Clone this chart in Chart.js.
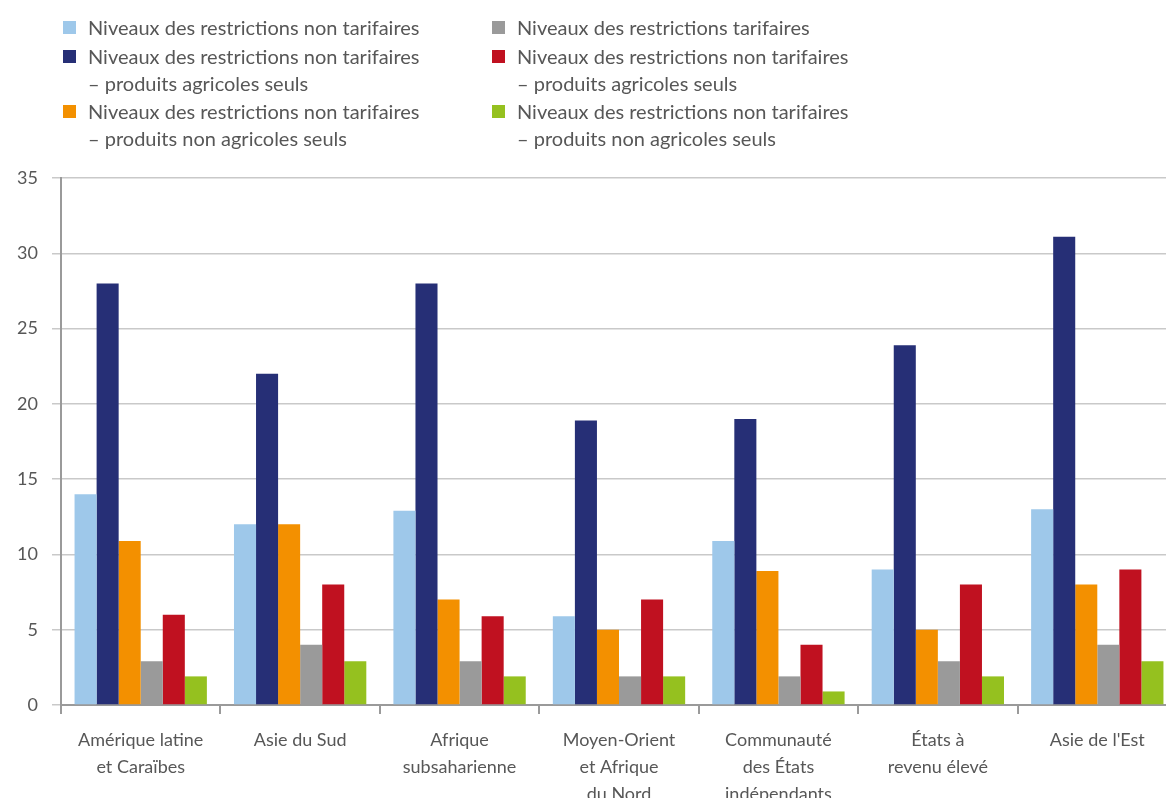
<!DOCTYPE html>
<html>
<head>
<meta charset="utf-8">
<script src="https://cdn.jsdelivr.net/npm/chart.js@4/dist/chart.umd.min.js"></script>
<style>
    html, body { margin: 0; padding: 0; background: #fff; overflow: hidden; }
    #wrap { position: absolute; left: 0; top: 0; width: 1177px; height: 798px; }
    #legend {
        position: absolute; left: 63px; top: 14px;
        display: grid; grid-template-columns: 429px 420px; grid-auto-flow: column;
        grid-template-rows: auto auto auto; row-gap: 1.5px;
        font-family: Lato, sans-serif; font-size: 20px; color: #575757;
    }
    .item { display: flex; align-items: flex-start; line-height: 27px; }
    .box { width: 13px; height: 13px; margin-top: 7px; margin-right: 12px; flex: none; }
</style>
</head>
<body>
<div id="wrap">
    <canvas id="chart" width="1177" height="798"></canvas>
    <div id="legend"></div>
</div>
<script>
const categories = [
    ["Amérique latine", "et Caraïbes"],
    ["Asie du Sud"],
    ["Afrique", "subsaharienne"],
    ["Moyen-Orient", "et Afrique", "du Nord"],
    ["Communauté", "des États", "indépendants"],
    ["États à", "revenu élevé"],
    ["Asie de l'Est"]
];

const nonTarif = [14, 12, 12.9, 5.9, 10.9, 9, 13];
const nonTarifAgri = [28, 22, 28, 18.9, 19, 23.9, 31.1];
const nonTarifNonAgri = [10.9, 12, 7, 5, 8.9, 5, 8];
const tarif = [2.9, 4, 2.9, 1.9, 1.9, 2.9, 4];
const tarifAgri = [6, 8, 5.9, 7, 4, 8, 9];
const tarifNonAgri = [1.9, 2.9, 1.9, 1.9, 0.9, 1.9, 2.9];

const seriesLabels = [
    ["Niveaux des restrictions non tarifaires"],
    ["Niveaux des restrictions non tarifaires", "– produits agricoles seuls"],
    ["Niveaux des restrictions non tarifaires", "– produits non agricoles seuls"],
    ["Niveaux des restrictions tarifaires"],
    ["Niveaux des restrictions non tarifaires", "– produits agricoles seuls"],
    ["Niveaux des restrictions non tarifaires", "– produits non agricoles seuls"]
];
const seriesColors = ["#9ec8ea", "#262f76", "#f39000", "#9a9a9a", "#c01120", "#95c11f"];
const seriesValues = [nonTarif, nonTarifAgri, nonTarifNonAgri, tarif, tarifAgri, tarifNonAgri];

const yTicks = [0, 5, 10, 15, 20, 25, 30, 35];

const textColor = "#575757";

const chart = new Chart(document.getElementById("chart"), {
    type: 'bar',
    data: {
        labels: categories,
        datasets: seriesValues.map((vals, i) => ({
            label: seriesLabels[i].join(" "),
            data: vals,
            backgroundColor: seriesColors[i],
            borderWidth: 0,
            barPercentage: 1,
            categoryPercentage: 0.83
        }))
    },
    options: {
        responsive: false,
        animation: false,
        devicePixelRatio: 1,
        layout: { padding: { top: 178, left: 0, right: 0, bottom: 0 } },
        plugins: {
            legend: { display: false },
            tooltip: { enabled: false }
        },
        scales: {
            x: {
                afterFit: (scale) => { scale.height = 93; },
                grid: {
                    offset: true,
                    drawOnChartArea: false,
                    drawTicks: true,
                    tickLength: 9,
                    color: "#9a9a9a",
                    lineWidth: 2
                },
                border: { color: "#9a9a9a", width: 2 },
                ticks: {
                    color: textColor,
                    padding: 13,
                    maxRotation: 0,
                    autoSkip: false,
                    font: { family: "Lato", size: 18, lineHeight: 1.5 }
                }
            },
            y: {
                min: 0,
                max: 35,
                afterFit: (scale) => { scale.width = 61; },
                afterBuildTicks: (scale) => { scale.ticks = yTicks.map(v => ({ value: v })); },
                grid: {
                    color: "#c9c9c9",
                    lineWidth: 1.5,
                    tickLength: 9
                },
                border: { color: "#9a9a9a", width: 2 },
                ticks: {
                    color: textColor,
                    padding: 14,
                    font: { family: "Lato", size: 18 }
                }
            }
        }
    }
});

// legend in two columns, built from the datasets
const legendEl = document.getElementById("legend");
chart.data.datasets.forEach((ds, i) => {
    const item = document.createElement("div");
    item.className = "item";
    const box = document.createElement("div");
    box.className = "box";
    box.style.background = ds.backgroundColor;
    const txt = document.createElement("div");
    txt.innerHTML = seriesLabels[i].join("<br>");
    item.appendChild(box);
    item.appendChild(txt);
    legendEl.appendChild(item);
});
</script>
</body>
</html>
